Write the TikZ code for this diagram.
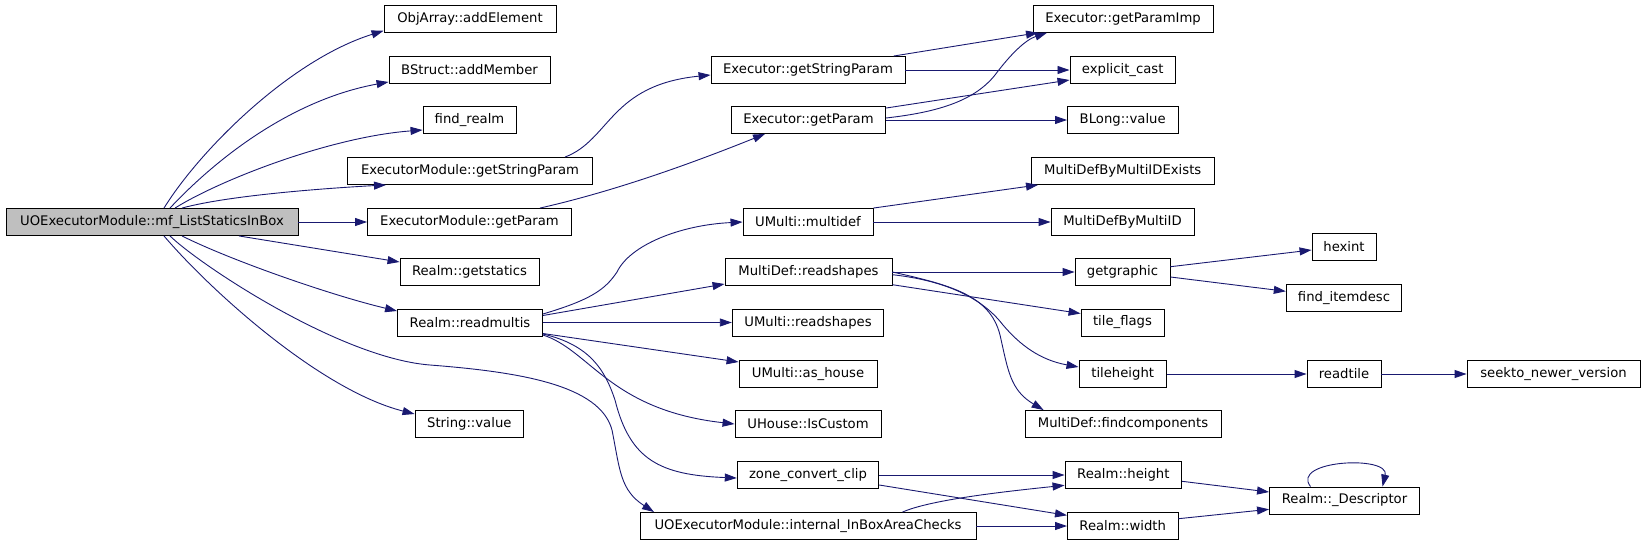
\documentclass[tikz,border=0pt]{standalone}
\usepackage{fontspec}
\setmainfont{DejaVu Sans}
\usetikzlibrary{arrows.meta,calc}
\definecolor{edgec}{HTML}{191970}
\definecolor{mainfill}{HTML}{BFBFBF}
\tikzset{
  box/.style={draw=black, line width=0.9pt, inner sep=0pt, minimum height=27pt, font=\fontsize{13.2}{15}\selectfont, anchor=center, fill=white},
  rootbox/.style={box, fill=mainfill},
  edge/.style={draw=edgec, line width=0.9pt, -{Triangle[length=12pt,width=8pt]}}
}
\begin{document}
\begin{tikzpicture}[x=1pt,y=-1pt]
\useasboundingbox (0,0) rectangle (1645,544);
% column 0
\node[rootbox, minimum width=292pt] (main) at (152,222) {UOExecutorModule::mf\_ListStaticsInBox};
% column 1
\node[box, minimum width=172pt] (oa) at (470,18.8) {ObjArray::addElement};
\node[box, minimum width=161pt] (bs) at (469.5,70) {BStruct::addMember};
\node[box, minimum width=93pt] (fr) at (469.5,120) {find\_realm};
\node[box, minimum width=245.5pt] (emgs) at (470,171) {ExecutorModule::getStringParam};
\node[box, minimum width=204pt] (emgp) at (469.5,222) {ExecutorModule::getParam};
\node[box, minimum width=139pt] (rgs) at (469.5,272) {Realm::getstatics};
\node[box, minimum width=145pt] (rrm) at (470,322.5) {Realm::readmultis};
\node[box, minimum width=108.6pt] (sv) at (469.3,424) {String::value};
% column 2
\node[box, minimum width=194pt] (egsp) at (808,70) {Executor::getStringParam};
\node[box, minimum width=154pt] (egp) at (808.5,120) {Executor::getParam};
\node[box, minimum width=130pt] (umd) at (808,222) {UMulti::multidef};
\node[box, minimum width=167pt] (mdrs) at (808.5,272) {MultiDef::readshapes};
\node[box, minimum width=151.5pt] (umrs) at (808,322.5) {UMulti::readshapes};
\node[box, minimum width=138pt] (umah) at (808,374) {UMulti::as\_house};
\node[box, minimum width=146pt] (uhic) at (808,424) {UHouse::IsCustom};
\node[box, minimum width=141.5pt] (zcc) at (808,475) {zone\_convert\_clip};
\node[box, minimum width=336pt] (iba) at (808,526) {UOExecutorModule::internal\_InBoxAreaChecks};
% column 3
\node[box, minimum width=180pt] (gpi) at (1123,18.8) {Executor::getParamImp};
\node[box, minimum width=105.5pt] (ec) at (1122.7,70) {explicit\_cast};
\node[box, minimum width=110.5pt] (blv) at (1122.7,120) {BLong::value};
\node[box, minimum width=183.4pt] (mdbe) at (1122.7,171) {MultiDefByMultiIDExists};
\node[box, minimum width=143pt] (mdbm) at (1122.5,222) {MultiDefByMultiID};
\node[box, minimum width=95pt] (gg) at (1122.5,272) {getgraphic};
\node[box, minimum width=83pt] (tf) at (1122.5,322.5) {tile\_flags};
\node[box, minimum width=87.5pt] (th) at (1122.7,374) {tileheight};
\node[box, minimum width=196pt] (mdfc) at (1123,424) {MultiDef::findcomponents};
\node[box, minimum width=116.6pt] (rh) at (1123.3,475) {Realm::height};
\node[box, minimum width=110.5pt] (rw) at (1122.7,526) {Realm::width};
% column 4
\node[box, minimum width=64pt] (hx) at (1344,246.5) {hexint};
\node[box, minimum width=115.5pt] (fid) at (1344,298) {find\_itemdesc};
\node[box, minimum width=74pt] (rt) at (1344,374) {readtile};
\node[box, minimum width=150pt] (rd) at (1344.5,500.5) {Realm::\_Descriptor};
% column 5
\node[box, minimum width=173pt] (snv) at (1553.5,374) {seekto\_newer\_version};

% edges from main
\draw[edge] ([xshift=12pt]main.north) .. controls (200,150) and (290,60) .. ([yshift=2pt]oa.south west);
\draw[edge] ([xshift=18pt]main.north) .. controls (215,160) and (290,100) .. ([yshift=2pt]bs.south west);
\draw[edge] ([xshift=23pt]main.north) .. controls (220,180) and (330,137) .. ([yshift=-10pt]fr.west);
\draw[edge] ([xshift=30pt]main.north) .. controls (230,195) and (330,188) .. ([xshift=-84pt]emgs.south);
\draw[edge] (main.east) -- (emgp.west);
\draw[edge] ([xshift=87pt]main.south) -- ([yshift=10pt]rgs.west);
\draw[edge] ([xshift=30pt]main.south) .. controls (230,260) and (330,295) .. ([yshift=11.5pt]rrm.west);
\draw[edge] ([xshift=12pt]main.south) .. controls (210,290) and (320,390) .. ([yshift=10pt]sv.west);
\draw[edge] ([xshift=18pt]main.south) .. controls (200,265) and (340,358) .. (430,365) .. controls (520,372) and (600,385) .. (612,430) .. controls (620,470) and (620,490) .. ([xshift=-154pt]iba.north);
% column 1 -> column 2
\draw[edge] ([xshift=95pt]emgs.north) .. controls (610,140) and (610,85) .. ([yshift=-5pt]egsp.west);
\draw[edge] ([xshift=70.5pt]emgp.north) .. controls (620,190) and (700,160) .. ([xshift=-43.5pt]egp.south);
\draw[edge] ([yshift=8.5pt]rrm.east) .. controls (590,300) and (605,290) .. (617,272) .. controls (630,245) and (680,225) .. (umd.west);
\draw[edge] ([yshift=7pt]rrm.east) -- ([yshift=-12pt]mdrs.west);
\draw[edge] (rrm.east) -- (umrs.west);
\draw[edge] ([yshift=-11pt]rrm.east) -- ([yshift=12pt]umah.west);
\draw[edge] ([yshift=-12.5pt]rrm.east) .. controls (590,350) and (610,410) .. (uhic.west);
\draw[edge] ([yshift=-11.5pt]rrm.east) .. controls (590,345) and (605,370) .. (615,400) .. controls (630,460) and (660,475) .. ([yshift=-3pt]zcc.west);
% column 2 -> column 3
\draw[edge] ([xshift=85.6pt]egsp.north) -- ([xshift=-85pt]gpi.south);
\draw[edge] (egsp.east) -- (ec.west);
\draw[edge] ([yshift=-2pt]egp.north east) -- ([yshift=-10pt]ec.west);
\draw[edge] ([yshift=2pt]egp.east) .. controls (940,112) and (975,100) .. (995,75) .. controls (1010,55) and (1025,40) .. ([xshift=-76pt]gpi.south);
\draw[edge] (egp.east) -- (blv.west);
\draw[edge] (umd.north east) -- ([xshift=-84.7pt]mdbe.south);
\draw[edge] (umd.east) -- (mdbm.west);
\draw[edge] (mdrs.east) -- (gg.west);
\draw[edge] ([yshift=-12.7pt]mdrs.east) -- ([yshift=9pt]tf.west);
\draw[edge] ([yshift=-2.7pt]mdrs.east) .. controls (940,280) and (980,295) .. (1003,325) .. controls (1020,345) and (1040,360) .. ([yshift=7pt]th.west);
\draw[edge] (mdrs.east) .. controls (950,285) and (990,295) .. (1000,335) .. controls (1008,370) and (1010,390) .. ([xshift=-79.4pt]mdfc.north);
\draw[edge] (zcc.east) -- (rh.west);
\draw[edge] ([yshift=-10pt]zcc.east) -- ([yshift=10.7pt]rw.west);
\draw[edge] ([xshift=94.5pt]iba.north) .. controls (930,500) and (1000,492) .. ([yshift=-10.3pt]rh.west);
\draw[edge] (iba.east) -- (rw.west);
% column 3 -> column 4/5
\draw[edge] ([yshift=5.3pt]gg.east) -- ([yshift=-3.5pt]hx.west);
\draw[edge] ([yshift=-5pt]gg.east) -- ([yshift=6.7pt]fid.west);
\draw[edge] (th.east) -- (rt.west);
\draw[edge] (rt.east) -- (snv.west);
\draw[edge] ([yshift=-6.3pt]rh.east) -- ([yshift=8.5pt]rd.west);
\draw[edge] ([yshift=7.3pt]rw.east) -- ([yshift=-8.8pt]rd.west);
\draw[edge] ([xshift=-34pt]rd.north) .. controls (1290,460) and (1390,455) .. ([xshift=38pt]rd.north);
\end{tikzpicture}
\end{document}
